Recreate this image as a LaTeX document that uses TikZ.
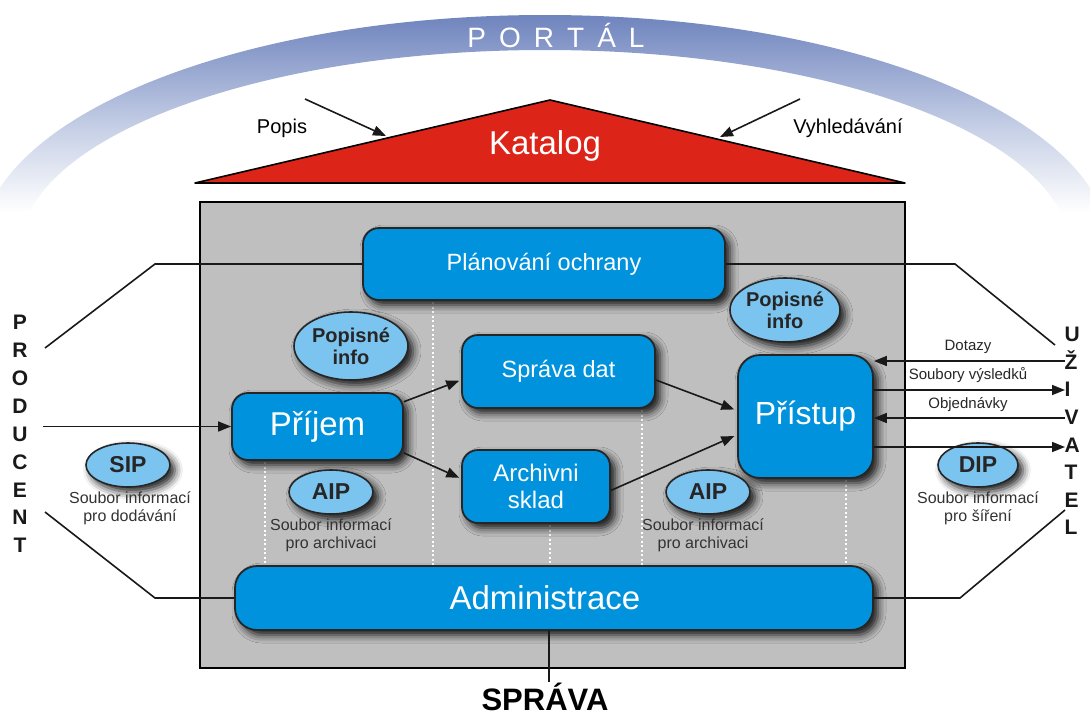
\documentclass[tikz,border=0pt]{standalone}
\usepackage{fontspec}
\setmainfont{Liberation Sans}
\usetikzlibrary{arrows.meta,shapes.geometric,shadows.blur,calc}
\definecolor{boxblue}{HTML}{0092DC}
\definecolor{ellblue}{HTML}{7CC4F0}
\definecolor{graybg}{HTML}{BFBFBF}
\definecolor{katred}{HTML}{DD2418}
\definecolor{portalblue}{HTML}{6F84BE}
\definecolor{portallight}{HTML}{C9D2E7}
\definecolor{labelgray}{HTML}{333333}
\pgfdeclareverticalshading{bandshade}{100bp}{color(0bp)=(white); color(33bp)=(white); color(50bp)=(portallight); color(75bp)=(portalblue); color(100bp)=(portalblue)}
\newcommand\myfs[2]{\fontsize{#1}{#2}\selectfont}
\begin{document}
\begin{tikzpicture}[x=1pt,y=1pt,
  mshadow/.style={blur shadow={shadow xshift=5pt,shadow yshift=-5pt,shadow blur radius=8pt,shadow opacity=90}},
  bluebox/.style={rounded corners=16pt,fill=boxblue,draw=black!85,line width=1.8pt,text=white,
    inner sep=0pt,align=center,mshadow},
  infoell/.style={ellipse,fill=ellblue,draw=black!85,line width=1.6pt,inner sep=0pt,
    font=\bfseries\myfs{20}{22},text=black!85,align=center,mshadow},
  pkg/.style={ellipse,fill=ellblue,draw=black!85,line width=1.6pt,inner sep=0pt,
    minimum width=84pt,minimum height=44pt,font=\bfseries\myfs{23}{23},text=black!85,mshadow},
  pkglabel/.style={font=\myfs{16}{18},text=labelgray,align=center},
  conn/.style={line width=1.6pt,draw=black!90},
  arr/.style={conn,-{Triangle[length=13pt,width=10pt]}},
  dots/.style={white,line width=2pt,dash pattern=on 2pt off 2.5pt},
  side/.style={font=\bfseries\myfs{21}{21},text=black!90},
  flowlbl/.style={font=\myfs{15}{15},text=black!85}]
\useasboundingbox (0,0) rectangle (1090,-715);
% portal band
\begin{scope}
\clip (0,0) rectangle (1090,-715);
\shade[shading=bandshade]
  (1110,-250) arc[start angle=0,end angle=180,x radius=565pt,y radius=235pt]
  -- (20,-250) arc[start angle=180,end angle=0,x radius=525pt,y radius=200pt] -- cycle;
\end{scope}
\node[text=white,font=\myfs{28}{28}] (portal) at (556,-35)
  {P\hspace{13pt}O\hspace{13pt}R\hspace{13pt}T\hspace{13pt}Á\hspace{13pt}L};
% katalog
\coordinate (k1) at (195,-183);
\coordinate (k2) at (550,-100);
\coordinate (k3) at (905,-183);
\fill[katred] (k1) -- (k2) -- (k3) -- cycle;
\draw[line width=1.6pt,line join=round] (k1) -- (k2) -- (k3) -- cycle;
\node[text=white,font=\myfs{33}{33}] (katalog) at (545,-146) {Katalog};
\coordinate (pa) at (305,-99);
\coordinate (pb) at (386,-136);
\coordinate (va) at (800,-99);
\coordinate (vb) at (720,-137);
\draw[arr] (pa) -- (pb);
\draw[arr] (va) -- (vb);
\node[font=\myfs{20}{20}] (popis) at (282,-128) {Popis};
\node[font=\myfs{20}{20}] (vyhl) at (848,-128) {Vyhledávání};
% main box
\draw[fill=graybg,line width=1.6pt] (200,-202) rectangle (905,-668);
% dotted lines
\draw[dots] (265,-462) -- (265,-566);
\draw[dots] (433,-302) -- (433,-566);
\draw[dots] (550,-525) -- (550,-566);
\draw[dots] (642,-410) -- (642,-566);
\draw[dots] (846,-480) -- (846,-566);
% outside coordinates
\coordinate (lt1) at (155,-264);
\coordinate (lt2) at (45,-348);
\coordinate (lb1) at (155,-598);
\coordinate (lb2) at (45,-512);
\coordinate (rt1) at (955,-264);
\coordinate (rt2) at (1055,-345);
\coordinate (rb1) at (960,-598);
\coordinate (rb2) at (1065,-510);
\coordinate (prod) at (43,-426.5);
\coordinate (u1) at (1065,-361);
\coordinate (u2) at (1065,-390);
\coordinate (u3) at (1065,-418);
\coordinate (u4) at (1065,-447);
\coordinate (spr) at (549,-682);
% boxes
\node[bluebox,minimum width=362pt,minimum height=72pt,font=\myfs{23.5}{23.5}] (plan) at (544,-264) {Plánování ochrany};
\node[bluebox,minimum width=193pt,minimum height=73pt,font=\myfs{23.5}{23.5}] (sprava) at (558.5,-371.5) {Správa dat};
\node[bluebox,minimum width=171pt,minimum height=67pt,font=\myfs{33}{33}] (prijem) at (317.5,-426.5) {Příjem};
\node[bluebox,minimum width=148pt,minimum height=73pt,font=\myfs{24}{27}] (archiv) at (536,-486.5) {Archivni\\sklad};
\node[bluebox,rounded corners=22pt,minimum width=135pt,minimum height=123pt,font=\myfs{32}{32}] (pristup) at (805.5,-416.5) {Přístup};
\node[bluebox,rounded corners=22pt,minimum width=638pt,minimum height=64pt,font=\myfs{33}{33}] (admin) at (554,-598) {\hspace*{-18pt}Administrace};
% info ellipses
\node[infoell,minimum width=114pt,minimum height=68pt] (popL) at (351,-346) {Popisné\\info};
\node[infoell,minimum width=110pt,minimum height=64pt] (popR) at (785,-310) {Popisné\\info};
\node[pkg] (aipL) at (331,-492) {AIP};
\node[pkg] (aipR) at (708,-492) {AIP};
\node[pkg] (sip) at (128,-465) {SIP};
\node[pkg,minimum width=80pt] (dip) at (978,-465) {DIP};
\node[pkglabel,anchor=north] (aipLl) at (331,-515) {Soubor informací\\pro archivaci};
\node[pkglabel,anchor=north] (aipRl) at (703,-515) {Soubor informací\\pro archivaci};
\node[pkglabel,anchor=north] (sipl) at (130,-488) {Soubor informací\\pro dodávání};
\node[pkglabel,anchor=north] (dipl) at (978,-488) {Soubor informací\\pro šíření};
% side connectors
\draw[conn] (plan.west) -- (lt1) -- (lt2);
\draw[conn] (admin.west) -- (lb1) -- (lb2);
\draw[conn] (plan.east) -- (rt1) -- (rt2);
\draw[conn] (admin.east) -- (rb1) -- (rb2);
\draw[arr] (prod) -- (prijem.west);
\draw[arr] (u1) -- (pristup.east |- u1);
\draw[arr] (pristup.east |- u2) -- (u2);
\draw[arr] (u3) -- (pristup.east |- u3);
\draw[arr] (pristup.east |- u4) -- (u4);
\draw[conn] (admin.south -| spr) -- (spr);
\node[flowlbl] (dot) at (968,-347) {Dotazy};
\node[flowlbl] (sv) at (968,-375) {Soubory výsledků};
\node[flowlbl] (obj) at (968,-405) {Objednávky};
% internal arrows
\draw[arr,shorten >=2pt] (prijem.16) -- (sprava.185);
\draw[arr,shorten >=2pt] (prijem.-17) -- (archiv.174);
\draw[arr,shorten >=3pt] (sprava.-5) -- (pristup.175);
\draw[arr,shorten >=3pt] (archiv.-3) -- (pristup.195);
% side texts
\node[side,align=center] (producent) at (20,-434)
  {P\\[6.9pt]R\\[6.9pt]O\\[6.9pt]D\\[6.9pt]U\\[6.9pt]C\\[6.9pt]E\\[6.9pt]N\\[6.9pt]T};
\node[side,align=left,anchor=west] (uzivatel) at (1061,-431)
  {U\\[6.6pt]Ž\\[6.6pt]I\\[6.6pt]V\\[6.6pt]A\\[6.6pt]T\\[6.6pt]E\\[6.6pt]L};
\node[font=\bfseries\myfs{31}{31},inner sep=0pt] (sprtext) at (545,-697) {SPRÁVA};
\end{tikzpicture}
\end{document}
